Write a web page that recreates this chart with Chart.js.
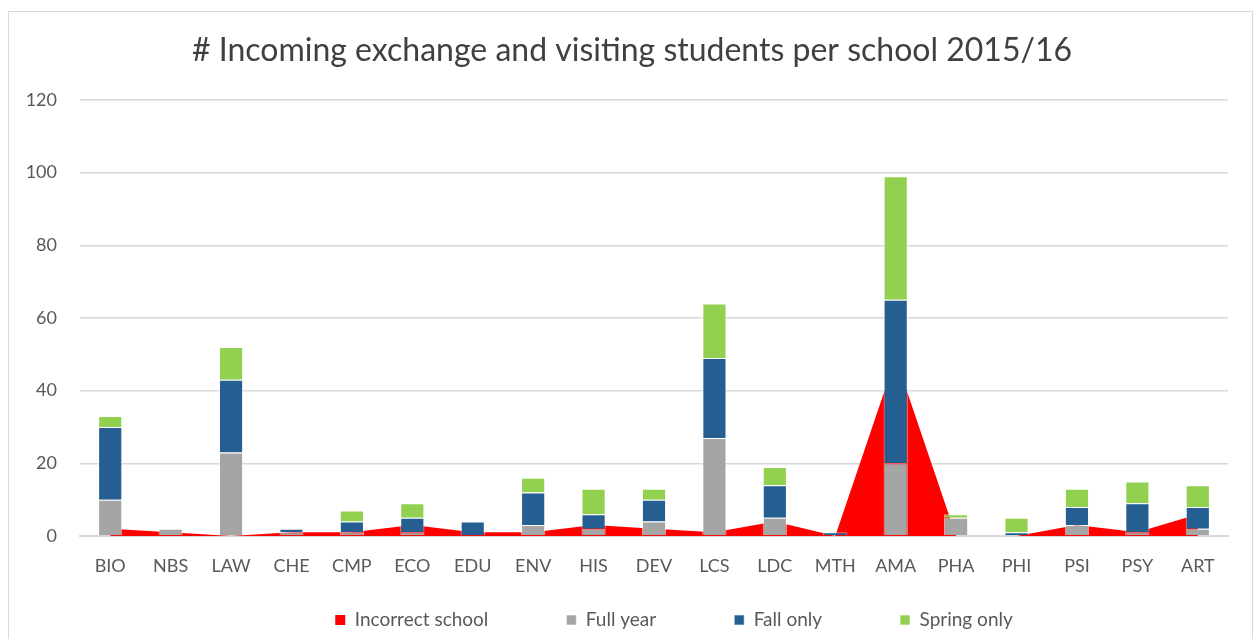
<!DOCTYPE html>
<html>
<head>
<meta charset="utf-8">
<script src="https://cdn.jsdelivr.net/npm/chart.js@4"></script>
<style>
  html, body { margin: 0; padding: 0; background: #fff; }
  #wrap { position: relative; width: 1254px; height: 639px; overflow: hidden; }
  #frame { position: absolute; left: 8px; top: 11px; width: 1243px; height: 700px; border: 1px solid #d9d9d9; }
  canvas { position: absolute; left: 0; top: 0; }
</style>
</head>
<body>
<div id="wrap">
  <div id="frame"></div>
  <canvas id="chart" width="1254" height="639"></canvas>
</div>
<script>
// incoming exchange / visiting students per school, 2015/16
const schools = ['BIO', 'NBS', 'LAW', 'CHE', 'CMP', 'ECO', 'EDU', 'ENV', 'HIS', 'DEV', 'LCS', 'LDC', 'MTH', 'AMA', 'PHA', 'PHI', 'PSI', 'PSY', 'ART'];
const incorrectSchool = [2, 1, 0, 1, 1, 3, 1, 1, 3, 2, 1, 4, 0, 49, 0, 0, 3, 1, 6];
const fullYear   = [10, 2, 23, 1, 1, 1, 0, 3, 2, 4, 27, 5, 0, 20, 5, 0, 3, 1, 2];
const fallOnly   = [20, 0, 20, 1, 3, 4, 4, 9, 4, 6, 22, 9, 1, 45, 0, 1, 5, 8, 6];
const springOnly = [3, 0, 9, 0, 3, 4, 0, 4, 7, 3, 15, 5, 0, 34, 1, 4, 5, 6, 6];
const yTicks = [0, 20, 40, 60, 80, 100, 120];

const FONT = 'Lato, "Open Sans", sans-serif';
const GREY_TEXT = '#595959';

const bar = (label, data, color) => ({
  type: 'bar', label, data, backgroundColor: color,
  borderColor: 'rgba(255,255,255,0.6)', borderWidth: 1,
  stack: 'students', order: 1,
  barPercentage: 0.4, categoryPercentage: 1
});

// the wide gaps between legend items also pad the legend vertically,
// so let the legend box grow upward after layout, and centre title/legend
// on the frame like the excel chart does
const nudge = {
  id: 'nudge',
  afterLayout(chart) {
    const lg = chart.legend;
    lg.left += 60; lg.right += 60;
    lg.top -= 43.5;
    lg.height = lg.bottom - lg.top;
    const t = chart.titleBlock;
    t.left += 18; t.right += 18;
  }
};

new Chart(document.getElementById('chart'), {
  data: {
    labels: schools,
    datasets: [
      { type: 'line', label: 'Incorrect school', data: incorrectSchool,
        backgroundColor: '#ff0000', borderColor: '#ff0000', borderWidth: 0,
        fill: 'origin', pointRadius: 0, tension: 0, stack: 'wrong', order: 2 },
      bar('Full year', fullYear, '#a5a5a5'),
      bar('Fall only', fallOnly, '#255e91'),
      bar('Spring only', springOnly, '#92d050')
    ]
  },
  plugins: [nudge],
  options: {
    responsive: false,
    animation: false,
    layout: { padding: { left: 0, right: 26, top: 10, bottom: 0 } },
    plugins: {
      title: {
        display: true,
        text: '# Incoming exchange and visiting students per school 2015/16',
        color: '#404040',
        font: { family: FONT, size: 32, weight: 'normal' },
        padding: { top: 21, bottom: 30.6 }
      },
      legend: {
        position: 'bottom',
        maxHeight: 63,
        labels: {
          color: GREY_TEXT, font: { family: FONT, size: 19 },
          boxWidth: 10, boxHeight: 10, padding: 78,
          sort: (a, b) => a.datasetIndex - b.datasetIndex
        }
      },
      tooltip: { enabled: false }
    },
    scales: {
      x: {
        stacked: true,
        afterFit: s => { s.height = 40; },
        grid: { display: false, drawTicks: false },
        border: { color: '#d9d9d9', width: 2 },
        ticks: { color: GREY_TEXT, font: { family: FONT, size: 18 }, padding: 19 }
      },
      y: {
        stacked: true,
        min: 0, max: 120,
        afterBuildTicks: s => { s.ticks = yTicks.map(v => ({ value: v })); },
        afterFit: s => { s.width = 80; },
        grid: { color: '#d9d9d9', lineWidth: 1.5, drawTicks: false },
        border: { display: false },
        ticks: { color: GREY_TEXT, font: { family: FONT, size: 18 }, padding: 23 }
      }
    }
  }
});
</script>
</body>
</html>
